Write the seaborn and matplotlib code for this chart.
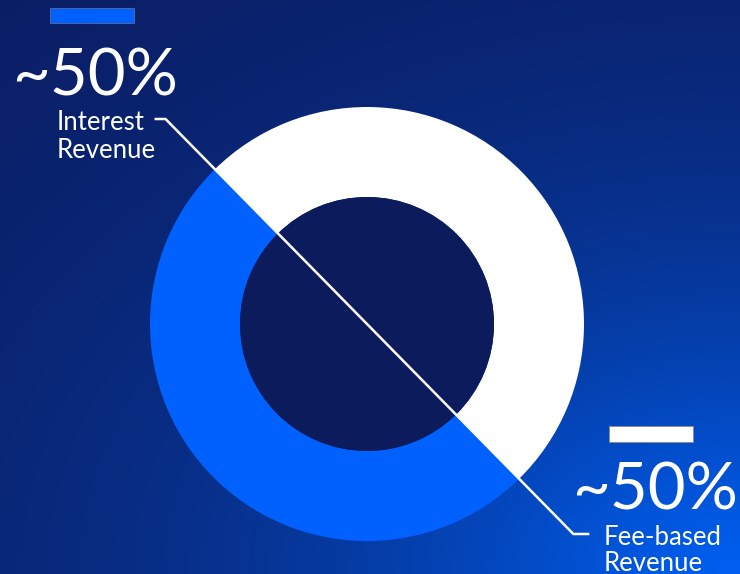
import numpy as np
import matplotlib
matplotlib.use("Agg")
import matplotlib.pyplot as plt
from matplotlib.patches import Circle, Rectangle
import seaborn as sns

# Revenue mix
segments = ["Interest Revenue", "Fee-based Revenue"]
shares = [50, 50]
share_labels = ["~50%", "~50%"]
name_lines = [["Interest", "Revenue"], ["Fee-based", "Revenue"]]

sns.set_theme(style="white")
plt.rcParams["font.family"] = ["Lato", "DejaVu Sans"]
palette = sns.color_palette(["#0061FF", "#FFFFFF"])

W, H = 740, 574
fig = plt.figure(figsize=(W / 100, H / 100), dpi=100)
ax = fig.add_axes([0, 0, 1, 1])


def Y(y_px):
    return H - y_px


# background: deep navy fading to bright blue toward the lower-right corner
yy, xx = np.mgrid[0:H, 0:W]
d = np.sqrt(((W - xx) * 0.8) ** 2 + ((H - yy) * 1.15) ** 2)
t = np.exp(-((d / 390.0) ** 1.3))[..., None]
dark = np.array([11, 27, 94]) / 255
bright = np.array([0, 95, 240]) / 255
bg = dark * (1 - t) + bright * t
ax.imshow(bg, extent=(0, W, 0, H), origin="upper", zorder=0, interpolation="bilinear")

# donut
cx, cy = 367, Y(324)
r_out, r_in = 217, 127
start = 134.5
ax.pie(shares, colors=palette, startangle=start, counterclock=True,
       radius=r_out, center=(cx, cy),
       wedgeprops=dict(width=r_out - r_in, linewidth=0, edgecolor="none"))
ax.add_patch(Circle((cx, cy), r_in, facecolor="#0C1B5C", edgecolor="none", zorder=3))

# leader line along the split between the two segments
theta = np.deg2rad(start)
ux, uy = np.cos(theta), np.sin(theta)
top_y, bot_y = Y(119), Y(534)
s_top = (top_y - cy) / uy
s_bot = (bot_y - cy) / uy
p_top = (cx + s_top * ux, top_y)
p_bot = (cx + s_bot * ux, bot_y)
lx = [p_top[0] - 11, p_top[0], p_bot[0], p_bot[0] + 16]
ly = [top_y, top_y, bot_y, bot_y]
ax.plot(lx, ly, color="white", lw=1.8, solid_capstyle="butt",
        solid_joinstyle="miter", zorder=5)

# swatches
ax.add_patch(Rectangle((50, Y(23)), 84, 15, facecolor=palette[0],
                       edgecolor="#5a6a9a", lw=0.6, zorder=4))
ax.add_patch(Rectangle((609, Y(442)), 84, 16, facecolor=palette[1],
                       edgecolor="#8a8a8a", lw=0.6, zorder=4))

# labels
big = dict(color="white", fontsize=47, fontweight="normal", ha="left",
           va="baseline", zorder=6)
small = dict(color="white", fontsize=18.5, fontweight="normal", ha="left",
             va="baseline", zorder=6)

ax.text(12, Y(95), share_labels[0], **big)
ax.text(57, Y(130), name_lines[0][0], **small)
ax.text(57, Y(158), name_lines[0][1], **small)

ax.text(572, Y(510), share_labels[1], **big)
ax.text(604, Y(545), name_lines[1][0], **small)
ax.text(604, Y(571), name_lines[1][1], **small)

ax.set_xlim(0, W)
ax.set_ylim(0, H)
ax.set_aspect("equal")
ax.axis("off")

fig.savefig("out.png", dpi=100)
